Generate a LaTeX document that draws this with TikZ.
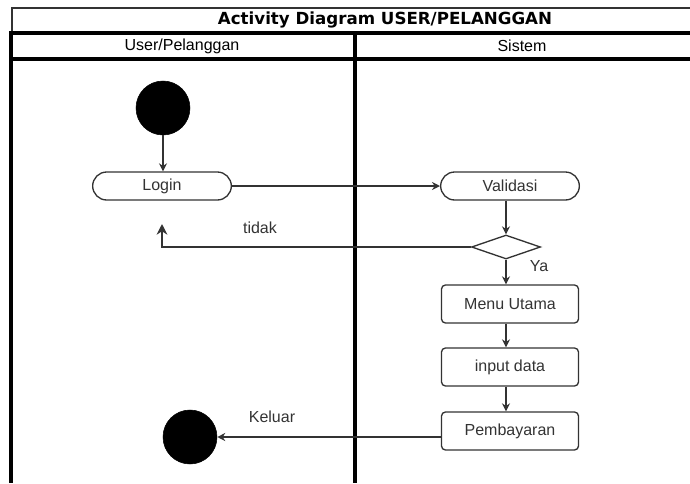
\documentclass[tikz,border=0pt]{standalone}
\usepackage{fontspec}
\setmainfont{Liberation Sans}
\newfontfamily\titlefont{DejaVu Sans}
\usetikzlibrary{shapes.geometric,shapes.misc,arrows.meta}
\definecolor{ln}{HTML}{333333}
\definecolor{tx}{HTML}{333333}
\begin{document}
\begin{tikzpicture}[x=0.75pt,y=-0.75pt,
  every node/.style={font=\fontsize{12pt}{14pt}\selectfont, text=tx},
  pill/.style={draw=ln,line width=1pt,rounded rectangle,minimum width=104pt,minimum height=21pt,inner sep=0pt},
  actbox/.style={draw=ln,line width=1pt,rounded corners=3pt,minimum width=102.75pt,minimum height=28.5pt,inner sep=0pt},
  dot/.style={circle,fill=black,draw=black,minimum size=40.5pt,inner sep=0pt},
  dec/.style={diamond,draw=ln,line width=1pt,minimum width=51.75pt,minimum height=18pt,inner sep=0pt},
  flow/.style={draw=ln,line width=1pt,-{Stealth[length=6pt,width=6pt]}},
  lane/.style={line width=2.4pt,black},
  lbl/.style={inner sep=0pt}
]
\useasboundingbox (0,0) rectangle (690,483);
% frame
\draw[line width=0.8pt,ln] (12,33) -- (12,8) -- (690,8);
\draw[lane] (9,33) -- (690,33);
\draw[lane] (9,59) -- (690,59);
\draw[lane] (11,33) -- (11,483);
\draw[lane] (355,33) -- (355,483);
\node[lbl,text=black] (title) at (385,20) {\titlefont\fontsize{12.5pt}{14pt}\selectfont\bfseries Activity Diagram USER/PELANGGAN};
\node[lbl,text=black] (h1) at (182,46) {User/Pelanggan};
\node[lbl,text=black] (h2) at (522,46) {Sistem};
% nodes
\node[dot] (start) at (163,108) {};
\node[pill] (login) at (162,186) {Login};
\node[pill] (valid) at (510,186) {Validasi};
\node[dec] (d) at (506,247) {};
\node[actbox] (menu) at (510,304) {Menu Utama};
\node[actbox] (input) at (510,367) {input data};
\node[actbox] (bayar) at (510,431) {Pembayaran};
\node[dot] (end) at (190,437) {};
\coordinate (back) at (162,224);
% edges
\draw[flow] (start.south) -- (start.south |- login.north);
\draw[flow] (login.east) -- (valid.west);
\draw[flow] (d.north |- valid.south) -- (d.north);
\draw[flow,-{Stealth[length=8pt,width=8pt]}] (d.west) -| (back);
\draw[flow] (d.south) -- (d.south |- menu.north);
\draw[flow] (d.south |- menu.south) -- (d.south |- input.north);
\draw[flow] (d.south |- input.south) -- (d.south |- bayar.north);
\draw[flow] (bayar.west |- end.east) -- (end.east);
% labels
\node[lbl] (ltidak) at (260,228) {tidak};
\node[lbl] (lya) at (539,266) {Ya};
\node[lbl] (lkeluar) at (272,417) {Keluar};
\end{tikzpicture}
\end{document}
